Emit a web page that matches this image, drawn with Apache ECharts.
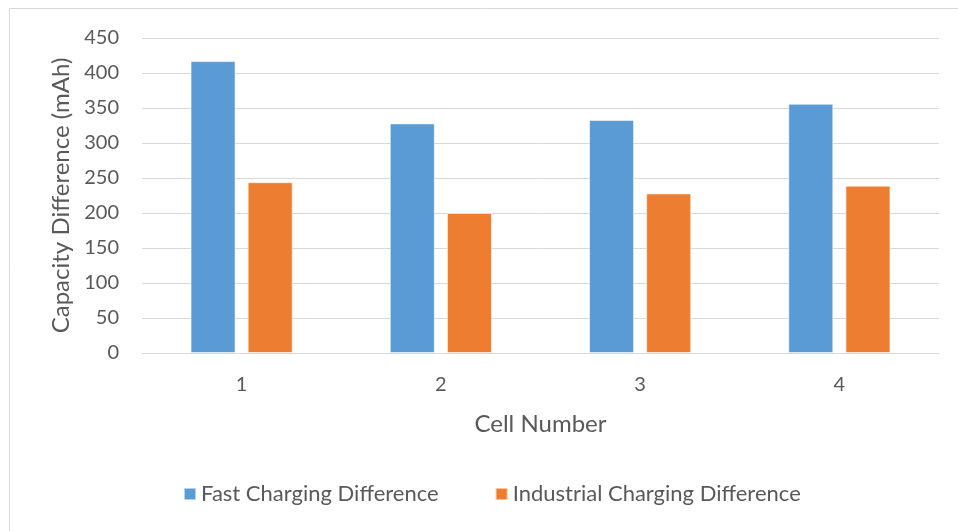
<!DOCTYPE html>
<html>
<head>
<meta charset="utf-8">
<script src="https://cdn.jsdelivr.net/npm/echarts@6/dist/echarts.min.js"></script>
<style>
  html, body { margin: 0; padding: 0; background: #fff; }
  #chart { width: 958px; height: 531px; }
</style>
</head>
<body>
<div id="chart"></div>
<script>
// Cell capacity differences after each charging method (mAh)
const cells = ['1', '2', '3', '4'];
const fastCharging = [417, 328, 333, 356];
const industrialCharging = [244, 200, 228, 239];
const seriesNames = ['Fast Charging Difference', 'Industrial Charging Difference'];
const yTicks = { min: 0, max: 450, step: 50 };

const FONT = 'Lato, "Open Sans", sans-serif';
const TEXT = '#595959';
const GRID = '#d9d9d9';

const chart = echarts.init(document.getElementById('chart'), null, { renderer: 'canvas' });

chart.setOption({
  backgroundColor: '#fff',
  animation: false,
  textStyle: { fontFamily: FONT, color: TEXT },
  graphic: [{
    type: 'rect',
    shape: { x: 9.5, y: 8.5, width: 1200, height: 1200 },
    style: { fill: 'none', stroke: GRID, lineWidth: 1 },
    silent: true
  }],
  grid: { left: 142, right: 19, top: 38, bottom: 178, containLabel: false },
  legend: {
    bottom: 21,
    left: 178,
    itemWidth: 12,
    itemHeight: 12,
    itemGap: 56,
    icon: 'rect',
    textStyle: { fontFamily: FONT, fontSize: 22, color: TEXT },
    data: seriesNames
  },
  xAxis: {
    type: 'category',
    data: cells,
    name: 'Cell Number',
    nameLocation: 'middle',
    nameGap: 59,
    nameTextStyle: { fontFamily: FONT, fontSize: 24, color: TEXT },
    axisLine: { lineStyle: { color: GRID, width: 1 } },
    axisTick: { show: false },
    axisLabel: { fontFamily: FONT, fontSize: 20, color: TEXT, margin: 22 }
  },
  yAxis: {
    type: 'value',
    min: yTicks.min,
    max: yTicks.max,
    interval: yTicks.step,
    name: 'Capacity Difference (mAh)',
    nameLocation: 'middle',
    nameGap: 68,
    nameTextStyle: { fontFamily: FONT, fontSize: 24, color: TEXT },
    axisLine: { show: false },
    axisTick: { show: false },
    axisLabel: { fontFamily: FONT, fontSize: 20, color: TEXT, margin: 23 },
    splitLine: { lineStyle: { color: GRID, width: 1 } }
  },
  series: [
    {
      name: seriesNames[0],
      type: 'bar',
      data: fastCharging,
      barWidth: 45,
      barGap: '27%',
      itemStyle: { color: '#5B9BD5', borderColor: 'rgba(255,255,255,0.55)', borderWidth: 1 }
    },
    {
      name: seriesNames[1],
      type: 'bar',
      data: industrialCharging,
      barWidth: 45,
      barGap: '27%',
      itemStyle: { color: '#ED7D31', borderColor: 'rgba(255,255,255,0.55)', borderWidth: 1 }
    }
  ]
});
</script>
</body>
</html>
